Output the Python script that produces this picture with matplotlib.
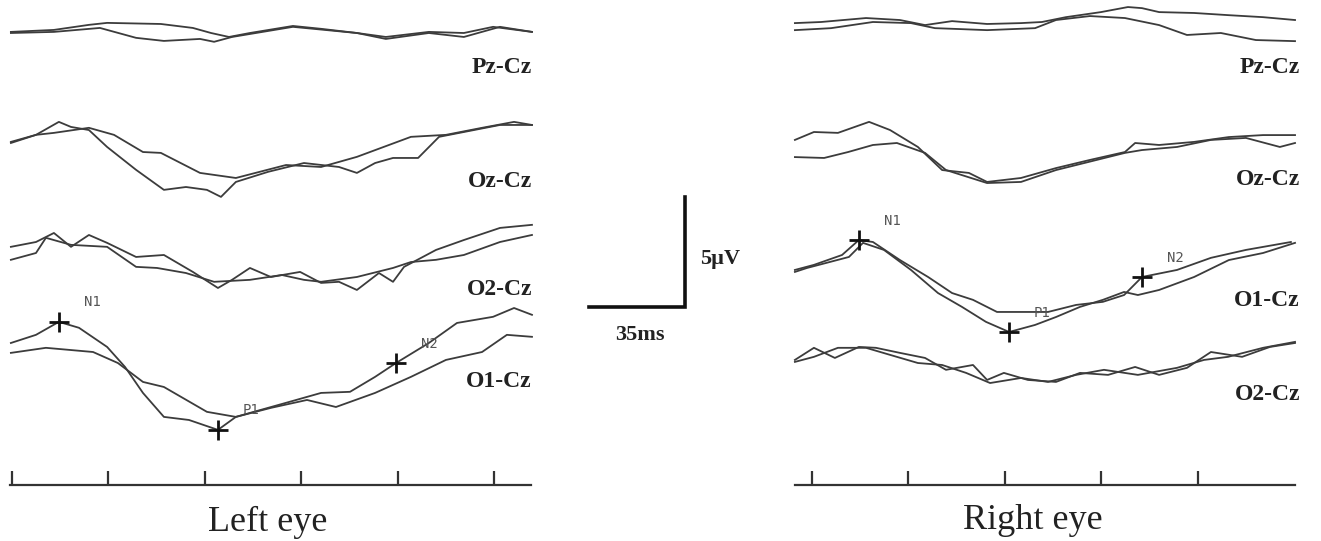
import matplotlib.pyplot as plt
import numpy as np

# time in ms, amplitude in uV
# ---- left eye ----
L_pz_ta = [-0.4, 15.2, 27.9, 34.5, 54.0, 65.6, 72.2, 78.7, 86.3, 101.9, 112.1, 125.1, 135.6, 151.2, 163.9, 174.5, 188.6]
L_pz_va = [0, 0.09, 0.32, 0.41, 0.36, 0.18, -0.05, -0.23, -0.05, 0.27, 0.14, -0.05, -0.23, 0, -0.05, 0.23, 0]
L_pz_tb = [-0.4, 15.2, 31.9, 45.0, 55.1, 68.2, 73.3, 79.8, 101.9, 125.1, 135.6, 151.2, 163.9, 177.0, 188.6]
L_pz_vb = [-0.05, 0, 0.18, -0.27, -0.41, -0.32, -0.45, -0.23, 0.23, -0.05, -0.32, -0.05, -0.23, 0.23, 0]

L_oz_ta = [-0.4, 8.7, 17.0, 21.4, 27.9, 34.5, 45.0, 55.1, 63.1, 70.7, 75.8, 81.2, 92.9, 105.9, 118.6, 125.1, 131.7, 138.2, 147.3, 154.9, 163.9, 177.0, 188.6]
L_oz_va = [-0.09, 0.23, 0.82, 0.59, 0.45, -0.32, -1.36, -2.27, -2.14, -2.27, -2.59, -1.91, -1.45, -1.05, -1.23, -1.5, -1.05, -0.82, -0.82, 0.14, 0.36, 0.68, 0.68]
L_oz_tb = [-0.4, 8.7, 15.2, 27.9, 37.0, 47.5, 54.0, 68.2, 81.2, 99.4, 112.1, 125.1, 144.7, 157.4, 170.5, 182.1, 188.6]
L_oz_vb = [-0.14, 0.23, 0.32, 0.55, 0.23, -0.55, -0.59, -1.5, -1.73, -1.14, -1.23, -0.77, 0.14, 0.23, 0.55, 0.82, 0.68]

L_o2_ta = [-0.4, 8.7, 15.2, 21.4, 27.9, 34.5, 45.0, 55.1, 65.6, 74.7, 79.8, 86.3, 93.9, 104.5, 112.1, 118.6, 125.1, 133.1, 138.2, 142.2, 148.4, 153.8, 163.9, 177.0, 188.6]
L_o2_va = [0.14, 0.36, 0.77, 0.14, 0.68, 0.32, -0.32, -0.23, -1.0, -1.73, -1.36, -0.82, -1.23, -1.0, -1.5, -1.45, -1.82, -1.05, -1.45, -0.77, -0.36, 0, 0.45, 1.0, 1.14]
L_o2_tb = [-0.4, 8.7, 12.3, 21.4, 34.5, 45.0, 52.6, 63.1, 73.3, 86.3, 97.9, 105.9, 112.1, 125.1, 138.2, 144.7, 153.8, 163.9, 177.0, 188.6]
L_o2_vb = [-0.45, -0.14, 0.55, 0.23, 0.14, -0.77, -0.82, -1.05, -1.45, -1.36, -1.14, -1.36, -1.45, -1.23, -0.82, -0.55, -0.45, -0.23, 0.36, 0.68]

L_o1_ta = [-0.4, 8.7, 17.0, 24.3, 34.5, 41.0, 47.5, 55.1, 64.2, 74.7, 81.2, 86.3, 99.4, 112.1, 122.6, 131.7, 139.3, 151.2, 161.4, 174.5, 182.1, 188.6]
L_o1_va = [-0.14, 0.23, 0.82, 0.55, -0.32, -1.23, -2.41, -3.5, -3.64, -4.09, -3.5, -3.32, -2.86, -2.41, -2.36, -1.68, -1.05, -0.14, 0.77, 1.05, 1.45, 1.14]
L_o1_tb = [-0.4, 12.3, 29.4, 38.4, 47.5, 55.1, 70.7, 81.2, 93.9, 107.0, 117.5, 131.7, 144.7, 157.4, 170.5, 179.5, 188.6]
L_o1_vb = [-0.59, -0.36, -0.55, -1.05, -1.91, -2.14, -3.27, -3.5, -3.09, -2.73, -3.05, -2.41, -1.68, -0.91, -0.55, 0.23, 0.14]
L_peaks = [2, 9, 16]  # N1, P1, N2 on trace a

# ---- right eye ----
R_pz_ta = [-6.2, 3.3, 19.6, 31.9, 41.0, 50.8, 63.5, 75.8, 83.4, 92.1, 104.8, 114.6, 119.7, 125.9, 138.6, 151.2, 163.6, 175.2]
R_pz_va = [0.09, 0.14, 0.32, 0.23, 0, 0.18, 0.05, 0.09, 0.14, 0.36, 0.59, 0.82, 0.77, 0.59, 0.55, 0.45, 0.36, 0.23]
R_pz_tb = [-6.2, 6.9, 22.1, 35.9, 44.6, 53.3, 63.5, 80.9, 88.5, 100.8, 113.5, 125.9, 136.0, 148.3, 161.0, 175.2]
R_pz_vb = [-0.23, -0.14, 0.14, 0.09, -0.14, -0.18, -0.23, -0.14, 0.23, 0.41, 0.32, 0, -0.45, -0.36, -0.68, -0.73]

R_oz_ta = [-6.2, 0.7, 9.4, 20.7, 28.3, 38.4, 47.2, 56.9, 63.5, 75.8, 88.5, 100.8, 113.5, 117.2, 125.9, 138.6, 151.2, 163.6, 175.2]
R_oz_va = [0.23, 0.59, 0.55, 1.05, 0.68, -0.09, -1.14, -1.27, -1.68, -1.5, -1.05, -0.68, -0.32, 0.09, 0, 0.14, 0.36, 0.45, 0.45]
R_oz_tb = [-6.2, 4.4, 13.1, 22.1, 30.8, 41.0, 48.6, 63.5, 75.8, 88.5, 113.5, 119.7, 132.4, 144.7, 157.4, 169.7, 175.2]
R_oz_vb = [-0.55, -0.59, -0.32, 0, 0.09, -0.36, -1.14, -1.73, -1.68, -1.14, -0.36, -0.23, -0.09, 0.23, 0.32, -0.09, 0.09]

R_o1_ta = [-6.2, 0.7, 10.9, 17.0, 22.1, 31.9, 42.1, 50.8, 58.4, 67.1, 75.8, 85.6, 95.8, 105.5, 113.2, 119.7, 132.4, 144.7, 157.4, 173.7]
R_o1_va = [0, 0.23, 0.68, 1.36, 1.27, 0.45, -0.32, -1.05, -1.36, -1.91, -1.91, -1.91, -1.59, -1.45, -1.14, -0.32, 0, 0.55, 0.91, 1.27]
R_o1_tb = [-6.2, -1.8, 13.4, 18.5, 26.1, 35.9, 45.7, 54.4, 63.1, 71.5, 80.9, 88.5, 97.2, 105.5, 113.2, 118.2, 125.9, 138.6, 151.2, 163.6, 175.2]
R_o1_vb = [-0.09, 0.09, 0.59, 1.23, 0.91, 0, -1.05, -1.68, -2.36, -2.82, -2.5, -2.14, -1.68, -1.36, -1.0, -1.14, -0.91, -0.32, 0.45, 0.77, 1.23]
R_peaks_a = [3, 15]  # N1, N2
R_peaks_b = [9]      # P1

R_o2_ta = [-6.2, 0.7, 8.3, 17.0, 23.2, 31.9, 41.0, 48.6, 58.4, 63.5, 69.6, 78.3, 88.5, 97.2, 107.4, 117.2, 125.9, 136.0, 144.7, 156.0, 166.1, 175.2]
R_o2_va = [0, 0.55, 0.09, 0.59, 0.55, 0.32, 0.09, -0.45, -0.23, -0.91, -0.59, -0.91, -1.0, -0.59, -0.68, -0.32, -0.68, -0.36, 0.36, 0.14, 0.59, 0.77]
R_o2_tb = [-6.2, 0.7, 9.4, 19.6, 28.3, 38.4, 47.2, 55.9, 64.6, 75.8, 85.6, 95.8, 105.9, 118.2, 132.4, 142.2, 150.9, 163.6, 175.2]
R_o2_vb = [-0.09, 0.14, 0.55, 0.55, 0.23, -0.14, -0.23, -0.59, -1.05, -0.82, -1.0, -0.68, -0.45, -0.68, -0.36, 0, 0.14, 0.55, 0.82]

L_ticks = [0, 35, 70, 105, 140, 175]
R_ticks = [0, 35, 70, 105, 140]

W, H = 1321, 541
PX_MS = 2.757   # px per ms
PX_UV = 22.0    # px per uV

fig = plt.figure(figsize=(W / 100, H / 100), dpi=100)

def make_ax(x0, x1, tz):
    ax = fig.add_axes([x0 / W, 0, (x1 - x0) / W, 1])
    ax.set_xlim((x0 - tz) / PX_MS, (x1 - tz) / PX_MS)
    ax.set_ylim(-H / PX_UV, 0)
    ax.axis('off')
    return ax

axL = make_ax(0, 560, 12)
axM = make_ax(560, 780, 589)
axR = make_ax(780, W, 812)

trace_kw = dict(color='#3c3c3c', lw=1.3)
lab_kw = dict(family=['Liberation Serif', 'DejaVu Serif'], fontweight='bold', fontsize=17, ha='right', va='center', color='#222')
pk_kw = dict(family='DejaVu Sans Mono', fontsize=10, color='#555', ha='center', va='center', textcoords='offset points', xytext=(24, 14))
mk_kw = dict(marker='+', ms=14, mew=2, color='#111', ls='none')

# left eye
off = {'pz': -1.45, 'oz': -6.36, 'o2': -11.36, 'o1': -15.45}
for ta, va, tb, vb, k in [(L_pz_ta, L_pz_va, L_pz_tb, L_pz_vb, 'pz'),
                          (L_oz_ta, L_oz_va, L_oz_tb, L_oz_vb, 'oz'),
                          (L_o2_ta, L_o2_va, L_o2_tb, L_o2_vb, 'o2'),
                          (L_o1_ta, L_o1_va, L_o1_tb, L_o1_vb, 'o1')]:
    axL.plot(ta, np.array(va) + off[k], **trace_kw)
    axL.plot(tb, np.array(vb) + off[k], **trace_kw)
for i, name in zip(L_peaks, ['N1', 'P1', 'N2']):
    x, y = L_o1_ta[i], L_o1_va[i] + off['o1']
    axL.plot(x, y, **mk_kw)
    axL.annotate(name, (x, y), **pk_kw)
axL.text(188.6, -3.09, 'Pz-Cz', **lab_kw)
axL.text(188.6, -8.23, 'Oz-Cz', **lab_kw)
axL.text(188.6, -13.18, 'O2-Cz', **lab_kw)
axL.text(188.6, -17.36, 'O1-Cz', **lab_kw)

base_y = -485 / PX_UV
tick_h = 14 / PX_UV
axL.plot([-0.7, 188.3], [base_y, base_y], color='#333', lw=1.6)
axL.vlines(L_ticks, base_y, base_y + tick_h, color='#333', lw=1.6)
axL.text(92.9, -23.73, 'Left eye', family=['Liberation Serif', 'DejaVu Serif'], fontsize=26, ha='center', va='center', color='#222')

# right eye
off = {'pz': -1.14, 'oz': -6.59, 'o1': -12.27, 'o2': -16.36}
for ta, va, tb, vb, k in [(R_pz_ta, R_pz_va, R_pz_tb, R_pz_vb, 'pz'),
                          (R_oz_ta, R_oz_va, R_oz_tb, R_oz_vb, 'oz'),
                          (R_o1_ta, R_o1_va, R_o1_tb, R_o1_vb, 'o1'),
                          (R_o2_ta, R_o2_va, R_o2_tb, R_o2_vb, 'o2')]:
    axR.plot(ta, np.array(va) + off[k], **trace_kw)
    axR.plot(tb, np.array(vb) + off[k], **trace_kw)
for i, name in zip(R_peaks_a, ['N1', 'N2']):
    x, y = R_o1_ta[i], R_o1_va[i] + off['o1']
    axR.plot(x, y, **mk_kw)
    axR.annotate(name, (x, y), **pk_kw)
for i in R_peaks_b:
    x, y = R_o1_tb[i], R_o1_vb[i] + off['o1']
    axR.plot(x, y, **mk_kw)
    axR.annotate('P1', (x, y), **pk_kw)
axR.text(177.0, -3.09, 'Pz-Cz', **lab_kw)
axR.text(177.0, -8.18, 'Oz-Cz', **lab_kw)
axR.text(177.0, -13.68, 'O1-Cz', **lab_kw)
axR.text(177.0, -17.95, 'O2-Cz', **lab_kw)
axR.plot([-6.2, 175.2], [base_y, base_y], color='#333', lw=1.6)
axR.vlines(R_ticks, base_y, base_y + tick_h, color='#333', lw=1.6)
axR.text(80.2, -23.64, 'Right eye', family=['Liberation Serif', 'DejaVu Serif'], fontsize=26, ha='center', va='center', color='#222')

# scale bar: 35 ms x 5 uV
sb_y = -307 / PX_UV
axM.plot([0, 35, 35], [sb_y, sb_y, sb_y + 5], color='#111', lw=2.6, solid_joinstyle='miter')
axM.text(40.3, sb_y + 2.2, '5\u00b5V', family=['Liberation Serif', 'DejaVu Serif'], fontweight='bold', fontsize=16, ha='left', va='center', color='#222')
axM.text(18.5, sb_y - 1.28, '35ms', family=['Liberation Serif', 'DejaVu Serif'], fontweight='bold', fontsize=16, ha='center', va='center', color='#222')

fig.savefig('out.png', dpi=100)
